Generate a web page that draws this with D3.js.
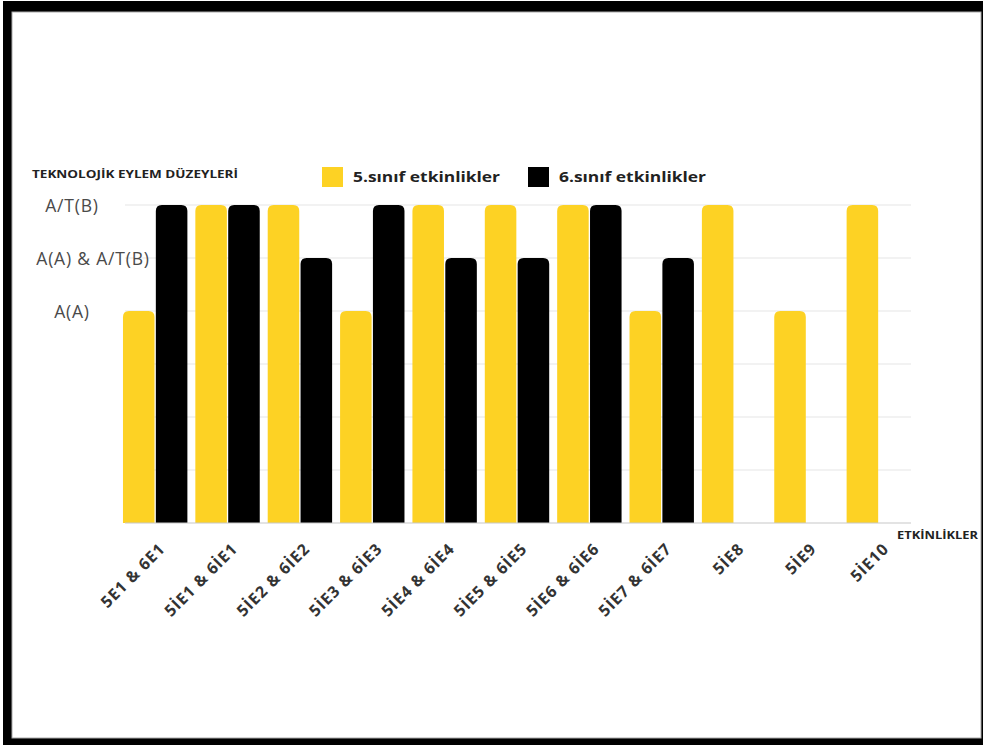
<!DOCTYPE html>
<html><head><meta charset="utf-8">
<script src="https://cdn.jsdelivr.net/npm/d3@7"></script>
<style>html,body{margin:0;padding:0;background:#fff;}svg{display:block}</style>
</head><body>
<svg id="c" width="983" height="745"></svg>
<script>
const categories = ["5E1 & 6E1","5İE1 & 6İE1","5İE2 & 6İE2","5İE3 & 6İE3","5İE4 & 6İE4","5İE5 & 6İE5","5İE6 & 6İE6","5İE7 & 6İE7","5İE8","5İE9","5İE10"];
const grade5 = [4,6,6,4,6,6,6,4,6,4,6];
const grade6 = [6,6,5,6,5,5,6,5,null,null,null];
const seriesNames = ["5.sınıf etkinlikler","6.sınıf etkinlikler"];
const seriesColors = ["#FDD224","#000000"];
const yTickValues = [0,1,2,3,4,5,6];
const yTickLabels = ["","","","","A(A)","A(A) & A/T(B)","A/T(B)"];
const yAxisTitle = "TEKNOLOJİK EYLEM DÜZEYLERİ";
const xAxisTitle = "ETKİNLİKLER";

const svg = d3.select("#c");

// frame
svg.append("rect").attr("x",3).attr("y",1).attr("width",980).attr("height",744).attr("fill","#000");
svg.append("rect").attr("x",12).attr("y",12).attr("width",969).attr("height",726).attr("fill","#fff").attr("stroke","#aaa").attr("stroke-width",1);

const x0 = d3.scaleBand().domain(categories).range([119,915]).paddingInner(0.11).paddingOuter(0.055);
const x1 = d3.scaleBand().domain([0,1]).range([0,x0.bandwidth()]).paddingInner(0.04);
const y = d3.scaleLinear().domain([0,6]).range([523,205]);

// gridlines
const gridX0 = 125, gridX1 = 911;
svg.append("g").selectAll("line").data(yTickValues.filter(d=>d>0)).join("line")
  .attr("x1",gridX0).attr("x2",gridX1).attr("y1",d=>y(d)).attr("y2",d=>y(d))
  .attr("stroke","#e6e6e6").attr("stroke-width",1.2);

// y axis
const yAxis = svg.append("g").attr("transform",`translate(${gridX0},0)`)
  .call(d3.axisLeft(y).tickValues(yTickValues).tickFormat((d,i)=>yTickLabels[i]).tickSize(0));
yAxis.select(".domain").remove();
yAxis.selectAll("text")
  .attr("x", d => d===5 ? -32 : -53)
  .attr("text-anchor","middle")
  .attr("dy","0.36em")
  .style("font-family","'Open Sans', sans-serif")
  .style("font-size","17.5px")
  .style("letter-spacing","0.8px")
  .style("fill","#4a4a4a");

// bars
function topRounded(x,yy,w,h,r){
  r = Math.min(r,w/2,h);
  return `M${x},${yy+h}V${yy+r}Q${x},${yy} ${x+r},${yy}H${x+w-r}Q${x+w},${yy} ${x+w},${yy+r}V${yy+h}Z`;
}
const series = [grade5, grade6];
series.forEach((vals,si)=>{
  svg.append("g").selectAll("path").data(categories.map((c,i)=>({c,v:vals[i]})).filter(d=>d.v!=null))
    .join("path")
    .attr("d", d => topRounded(x0(d.c)+x1(si), y(d.v), x1.bandwidth(), y(0)-y(d.v), 6))
    .attr("fill", seriesColors[si]);
});

// baseline
svg.append("line").attr("x1",gridX0).attr("x2",gridX1).attr("y1",y(0)).attr("y2",y(0))
  .attr("stroke","#c8c8c8").attr("stroke-width",1.2);

// x axis labels
const xAxis = svg.append("g").attr("transform",`translate(0,${y(0)})`)
  .call(d3.axisBottom(x0).tickSize(0));
xAxis.select(".domain").remove();
xAxis.selectAll("text")
  .attr("x",0).attr("y",0).attr("dy",null)
  .attr("text-anchor","end")
  .attr("transform","translate(11,27) rotate(-45)")
  .style("font-family","'Open Sans', sans-serif")
  .style("font-weight","700")
  .style("font-size","16px")
  .style("letter-spacing","0.9px")
  .style("fill","#333");

// y axis title
svg.append("text").attr("x",32).attr("y",178).text(yAxisTitle)
  .attr("textLength",206).attr("lengthAdjust","spacingAndGlyphs")
  .style("font-family","'Open Sans', sans-serif").style("font-weight","700")
  .style("font-size","11px").style("fill","#222");

// x axis title
svg.append("text").attr("x",897).attr("y",539).text(xAxisTitle)
  .attr("textLength",81).attr("lengthAdjust","spacingAndGlyphs")
  .style("font-family","'Open Sans', sans-serif").style("font-weight","700")
  .style("font-size","11px").style("fill","#222");

// legend
const legendX = [322, 528];
const lg = svg.append("g").selectAll("g").data(seriesNames).join("g")
  .attr("transform",(d,i)=>`translate(${legendX[i]},167)`);
lg.append("rect").attr("width",21).attr("height",20).attr("fill",(d,i)=>seriesColors[i]);
lg.append("text").attr("x",31).attr("y",15).text(d=>d)
  .attr("textLength",147).attr("lengthAdjust","spacingAndGlyphs")
  .style("font-family","'Open Sans', sans-serif").style("font-weight","700")
  .style("font-size","15px").style("fill","#222");
</script>
</body></html>
